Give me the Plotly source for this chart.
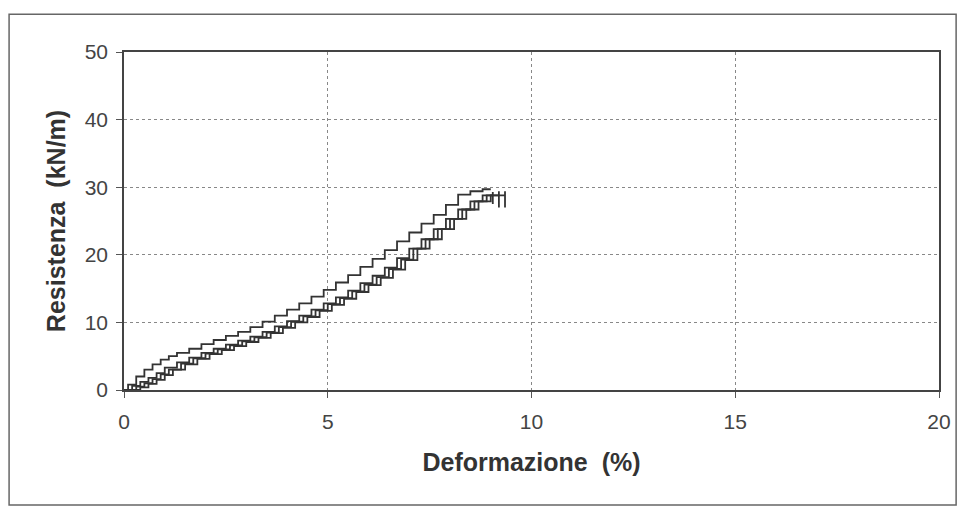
import plotly.graph_objects as go

# Curve A (upper curve)
a_x = [0, 0.1, 0.3, 0.5, 0.7, 0.9, 1.1, 1.3, 1.6, 1.9, 2.2, 2.5, 2.8, 3.1, 3.4, 3.7,
       4.0, 4.3, 4.6, 4.9, 5.2, 5.5, 5.8, 6.1, 6.4, 6.7, 7.0, 7.3, 7.6, 7.9, 8.2, 8.5, 8.8, 9.0]
a_y = [0, 0.8, 2.0, 3.0, 3.8, 4.5, 5.0, 5.5, 6.1, 6.8, 7.4, 8.0, 8.6, 9.3, 10.1, 11.0,
       11.9, 12.8, 13.8, 14.8, 15.9, 17.0, 18.2, 19.4, 20.7, 22.0, 23.3, 24.6, 25.9, 27.4, 28.9, 29.4, 29.7, 29.7]

# Curve B
b_x = [0, 0.2, 0.4, 0.6, 0.8, 1.0, 1.3, 1.6, 1.9, 2.2, 2.5, 2.8, 3.1, 3.4, 3.7, 4.0, 4.3,
       4.6, 4.9, 5.2, 5.5, 5.8, 6.1, 6.4, 6.7, 7.0, 7.3, 7.6, 7.9, 8.2, 8.5, 8.8, 9.05, 9.05]
b_y = [0, 0.6, 1.2, 1.8, 2.5, 3.3, 4.1, 4.8, 5.5, 6.1, 6.7, 7.3, 7.9, 8.6, 9.4, 10.2, 11.0,
       11.9, 12.8, 13.7, 14.7, 15.8, 16.9, 18.1, 19.5, 20.9, 22.3, 23.8, 25.3, 26.7, 27.9, 28.8, 29.3, 27.5]

# Curve C
c_x = [0, 0.3, 0.5, 0.7, 0.9, 1.1, 1.4, 1.7, 2.0, 2.3, 2.6, 2.9, 3.2, 3.5, 3.8, 4.1, 4.4,
       4.7, 5.0, 5.3, 5.6, 5.9, 6.2, 6.5, 6.8, 7.1, 7.4, 7.7, 8.0, 8.3, 8.6, 8.9, 9.2, 9.2]
c_y = [0, 0.5, 1.0, 1.6, 2.3, 3.0, 3.9, 4.7, 5.4, 6.0, 6.6, 7.2, 7.8, 8.5, 9.3, 10.1, 10.9,
       11.8, 12.7, 13.6, 14.6, 15.6, 16.7, 17.9, 19.3, 20.9, 22.3, 23.8, 25.3, 26.7, 27.9, 28.8, 29.4, 27.0]

# Curve D
d_x = [0, 0.4, 0.6, 0.8, 1.0, 1.2, 1.5, 1.8, 2.1, 2.4, 2.7, 3.0, 3.3, 3.6, 3.9, 4.2, 4.5,
       4.8, 5.1, 5.4, 5.7, 6.0, 6.3, 6.6, 6.9, 7.2, 7.5, 7.8, 8.1, 8.4, 8.7, 9.0, 9.35, 9.35]
d_y = [0, 0.4, 0.9, 1.5, 2.2, 3.0, 3.8, 4.6, 5.3, 5.9, 6.5, 7.1, 7.7, 8.4, 9.2, 10.0, 10.8,
       11.7, 12.6, 13.5, 14.5, 15.5, 16.6, 17.8, 19.2, 20.9, 22.3, 23.8, 25.3, 26.7, 27.9, 28.8, 29.4, 27.0]

x_ticks = [0, 5, 10, 15, 20]
y_ticks = [0, 10, 20, 30, 40, 50]

fig = go.Figure()
for xs, ys in [(a_x, a_y), (b_x, b_y), (c_x, c_y), (d_x, d_y)]:
    fig.add_trace(go.Scatter(x=xs, y=ys, mode="lines", line=dict(color="#333333", width=1.8, shape="hv"),
                             showlegend=False, hoverinfo="skip"))

fig.update_layout(
    width=959, height=505,
    margin=dict(l=116, r=28, t=44, b=123),
    paper_bgcolor="white", plot_bgcolor="white",
    font=dict(family="Liberation Sans, Arial, sans-serif", color="#333333"),
    xaxis=dict(range=[0, 20], tickvals=x_ticks, ticks="outside", ticklen=6, tickcolor="#555",
               ticklabelstandoff=6, tickfont=dict(size=21, color="#444"),
               showgrid=True, gridcolor="#888", griddash="dot", gridwidth=1,
               showline=True, linecolor="#444", linewidth=1.5, mirror=True, zeroline=False,
               title=dict(text="<b>Deformazione&nbsp;&nbsp;(%)</b>", font=dict(size=25, color="#333"), standoff=22)),
    yaxis=dict(range=[0, 50], tickvals=y_ticks, ticks="outside", ticklen=6, tickcolor="#555",
               ticklabelstandoff=4, tickfont=dict(size=21, color="#444"),
               showgrid=True, gridcolor="#888", griddash="dot", gridwidth=1,
               showline=True, linecolor="#444", linewidth=1.5, mirror=True, zeroline=False,
               title=dict(text="<b>Resistenza&nbsp;&nbsp;(kN/m)</b>", font=dict(size=25, color="#333"), standoff=12)),
    shapes=[dict(type="rect", xref="paper", yref="paper", x0=-0.141, x1=1.021, y0=-0.340, y1=1.112,
                 line=dict(color="#666", width=1.5))],
)

fig.write_html("out.html")
